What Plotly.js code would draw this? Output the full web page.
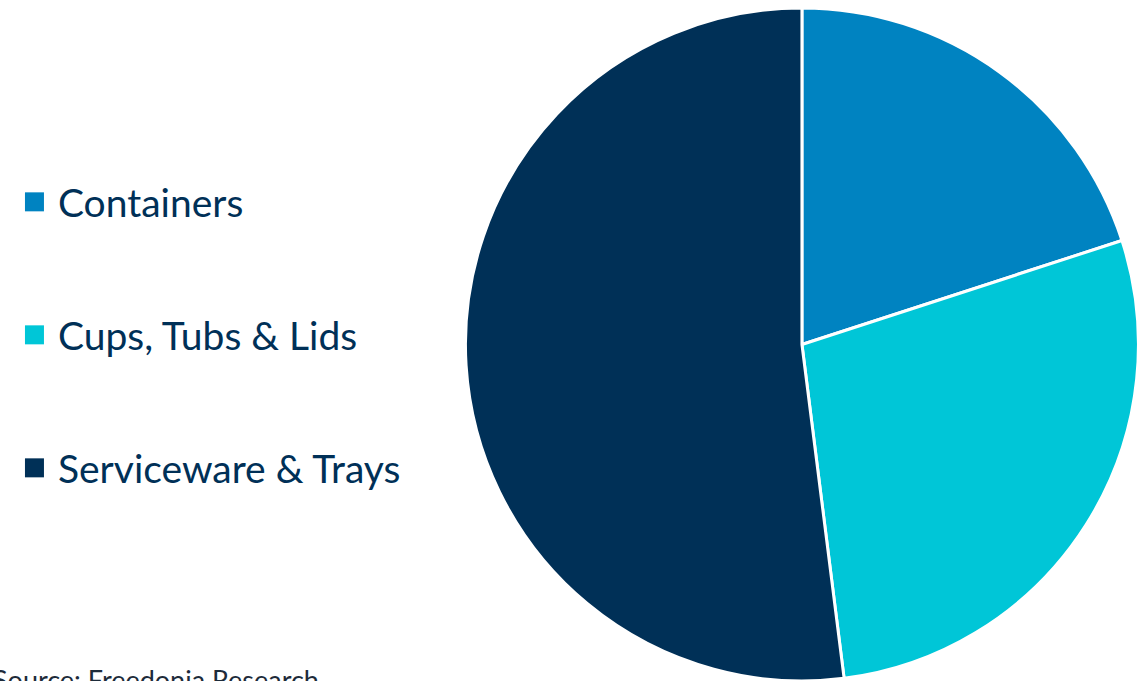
<!DOCTYPE html>
<html>
<head>
<meta charset="utf-8">
<script src="https://cdn.plot.ly/plotly-3.0.1.min.js"></script>
<style>
  html, body { margin: 0; padding: 0; background: #ffffff; }
  #chart { width: 1144px; height: 681px; }
</style>
</head>
<body>
<div id="chart"></div>
<script>
const categories = ["Containers", "Cups, Tubs & Lids", "Serviceware & Trays"];
const shares = [20, 28, 52];
const sliceColors = ["#0083C1", "#00C6D7", "#003057"];
const sourceNote = "Source: Freedonia Research";

const data = [{
  type: "pie",
  labels: categories,
  values: shares,
  sort: false,
  direction: "clockwise",
  rotation: 0,
  textinfo: "none",
  hoverinfo: "label+percent",
  marker: { colors: sliceColors, line: { color: "#ffffff", width: 3 } },
  domain: { x: [0.404, 0.998], y: [0, 1] }
}];

const layout = {
  width: 1144,
  height: 681,
  margin: { l: 0, r: 0, t: 8, b: 0 },
  paper_bgcolor: "#ffffff",
  plot_bgcolor: "#ffffff",
  showlegend: true,
  legend: {
    x: 0.0157, xanchor: "left",
    y: 0.7593, yanchor: "top",
    font: { family: "Lato, 'Open Sans', sans-serif", size: 39, color: "#003057" },
    bgcolor: "rgba(0,0,0,0)",
    borderwidth: 0
  },
  annotations: [{
    xref: "paper", yref: "paper",
    x: 0, y: 0, xanchor: "left", yanchor: "top",
    xshift: -9, yshift: 20,
    showarrow: false,
    text: sourceNote,
    font: { family: "Lato, 'Open Sans', sans-serif", size: 27, color: "#1d2b3a" }
  }]
};

Plotly.newPlot("chart", data, layout, { staticPlot: true }).then(function (gd) {
  gd.querySelectorAll(".legend [clip-path]").forEach(function (el) {
    el.removeAttribute("clip-path");
  });
  const traces = gd.querySelectorAll(".legend .traces");
  let y0 = 0;
  if (traces.length) {
    const m = /translate\(\s*([-\d.]+)[ ,]+([-\d.]+)/.exec(traces[0].getAttribute("transform") || "");
    if (m) y0 = parseFloat(m[2]);
  }
  traces.forEach(function (t, i) {
    t.setAttribute("transform", "translate(0," + (y0 + i * 133) + ")");
  });
  gd.querySelectorAll(".legend .legendpoints path").forEach(function (p) {
    p.setAttribute("d", "M9.5,9.5H-9.5V-9.5H9.5Z");
    p.setAttribute("transform", "translate(16.5,0)");
    p.style.strokeWidth = "0px";
    p.style.stroke = "none";
  });
});
</script>
</body>
</html>
